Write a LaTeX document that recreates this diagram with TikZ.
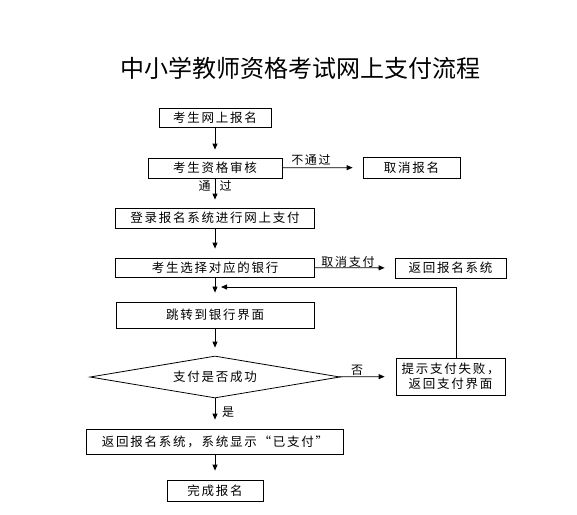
\documentclass[tikz,border=0pt]{standalone}
\usepackage{fontspec}
\setmainfont{Noto Sans CJK SC}
\newfontfamily\boxfont[LetterSpace=14]{Noto Sans CJK SC}
\usetikzlibrary{arrows.meta,shapes.geometric}
\begin{document}
\begin{tikzpicture}[x=1pt,y=-1pt,
  box/.style={draw, line width=0.8pt, rectangle, inner sep=0pt, font=\boxfont\fontsize{12.5}{15}\selectfont},
  arr/.style={-{Triangle[length=6pt,width=5pt]}, line width=0.8pt},
  lbl/.style={font=\boxfont\fontsize{12}{14}\selectfont, inner sep=0pt}]
\useasboundingbox (0,0) rectangle (577,514);
\node[font=\fontsize{24}{28}\selectfont] (title) at (300,68) {中小学教师资格考试网上支付流程};

\node[box, minimum width=112pt, minimum height=19pt] (b1) at (215,117.5) {考生网上报名};
\node[box, minimum width=134pt, minimum height=20pt] (b2) at (215,168) {考生资格审核};
\node[box, minimum width=97pt, minimum height=21pt] (cancel) at (411.5,167.5) {取消报名};
\node[box, minimum width=199pt, minimum height=20pt] (b3) at (215,218) {登录报名系统进行网上支付};
\node[box, minimum width=199pt, minimum height=19pt] (b4) at (215,267.5) {考生选择对应的银行};
\node[box, minimum width=111pt, minimum height=20pt] (ret) at (450.5,268) {返回报名系统};
\node[box, minimum width=198pt, minimum height=26pt] (b5) at (215,315) {跳转到银行界面};
\node[box, diamond, aspect=6, minimum width=250pt, minimum height=42pt] (dec) at (215,377) {支付是否成功};
\node[box, minimum width=109pt, minimum height=37pt, align=center] (fail) at (450.5,376.5) {提示支付失败，\\返回支付界面};
\node[box, minimum width=257pt, minimum height=25pt] (b6) at (215,441.5) {返回报名系统，系统显示“已支付”};
\node[box, minimum width=96pt, minimum height=21pt] (b7) at (215,490.5) {完成报名};

\draw[arr, shorten >=8pt] (b1) -- (b2);
\draw[arr, shorten >=10pt] (b2) -- (cancel);
\node[lbl] (l1) at (311,160) {不通过};
\draw[arr, shorten >=8pt] (b2) -- (b3);
\node[lbl] (l2) at (215,186) {通\hspace{9pt}过};
\draw[arr, shorten >=9pt] (b3) -- (b4);
\draw[arr, shorten >=10pt] (b4) -- (ret);
\node[lbl] (l3) at (348,262) {取消支付};
\draw[arr, shorten >=9pt] (b4) -- (b5);
\draw[arr, shorten >=8pt] (b5) -- (dec);
\draw[arr, shorten >=11pt] (dec) -- (fail);
\node[lbl] (l4) at (357,370) {否};
\coordinate (loopend) at (221,287);
\draw[arr] ([xshift=6pt]fail.north) |- (loopend);
\draw[arr, shorten >=9pt] (dec) -- (b6);
\node[lbl] (l5) at (228,412) {是};
\draw[arr, shorten >=9pt] (b6) -- (b7);
\end{tikzpicture}
\end{document}
